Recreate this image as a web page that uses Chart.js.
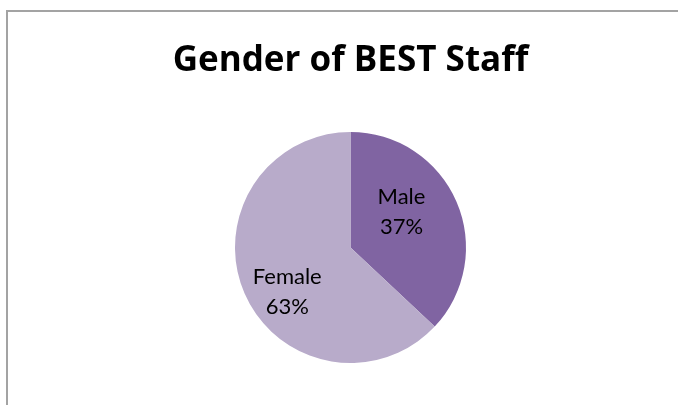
<!DOCTYPE html>
<html>
<head>
<meta charset="utf-8">
<title>Gender of BEST Staff</title>
<script src="https://cdn.jsdelivr.net/npm/chart.js@4.4.1/dist/chart.umd.min.js"></script>
<style>
  html, body { margin: 0; padding: 0; background: #fff; }
  body { width: 678px; height: 405px; position: relative; overflow: hidden; }
  /* grey frame, only the top and left edges show */
  #frame {
    position: absolute; left: 6px; top: 10px; right: -4px; bottom: -4px;
    border-top: 2px solid #a3a3a3; border-left: 2px solid #a3a3a3;
  }
  #wrap { position: absolute; left: 23px; top: 0; width: 655px; height: 405px; }
</style>
</head>
<body>
<div id="frame"></div>
<div id="wrap"><canvas id="genderChart"></canvas></div>
<script>
const categories = ["Male", "Female"];
const shares = [37, 63];
const sliceColors = ["#8064a2", "#b8abca"];
const chartTitle = "Gender of BEST Staff";

// labels sit a little counter-clockwise of each slice's middle
const labelTurn = 11.8 * Math.PI / 180;
const labelReach = [0.54, 0.67];
const labelLineGap = 30;

const sliceLabels = {
    id: "sliceLabels",
    afterDatasetsDraw(chart) {
        const ctx = chart.ctx;
        const meta = chart.getDatasetMeta(0);
        ctx.save();
        ctx.font = "22px Lato";
        ctx.fillStyle = "#000";
        ctx.textAlign = "center";
        ctx.textBaseline = "middle";
        meta.data.forEach((arc, i) => {
            const p = arc.getProps(["x", "y", "startAngle", "endAngle", "outerRadius"], true);
            const mid = (p.startAngle + p.endAngle) / 2 - labelTurn;
            const r = p.outerRadius * labelReach[i];
            const lx = p.x + Math.cos(mid) * r;
            const ly = p.y + Math.sin(mid) * r;
            ctx.fillText(categories[i], lx, ly - labelLineGap / 2);
            ctx.fillText(shares[i] + "%", lx, ly + labelLineGap / 2);
        });
        ctx.restore();
    }
};

new Chart(document.getElementById("genderChart"), {
    type: "pie",
    data: {
        labels: categories,
        datasets: [{
            data: shares,
            backgroundColor: sliceColors,
            borderWidth: 0
        }]
    },
    options: {
        responsive: true,
        maintainAspectRatio: false,
        animation: false,
        layout: { padding: { top: 0, left: 0, right: 0, bottom: 42 } },
        plugins: {
            legend: { display: false },
            tooltip: { enabled: false },
            title: {
                display: true,
                text: chartTitle,
                color: "#000",
                font: { family: "Open Sans", size: 35, weight: "bold", lineHeight: 1.2 },
                padding: { top: 40, bottom: 50 }
            }
        }
    },
    plugins: [sliceLabels]
});
</script>
</body>
</html>
